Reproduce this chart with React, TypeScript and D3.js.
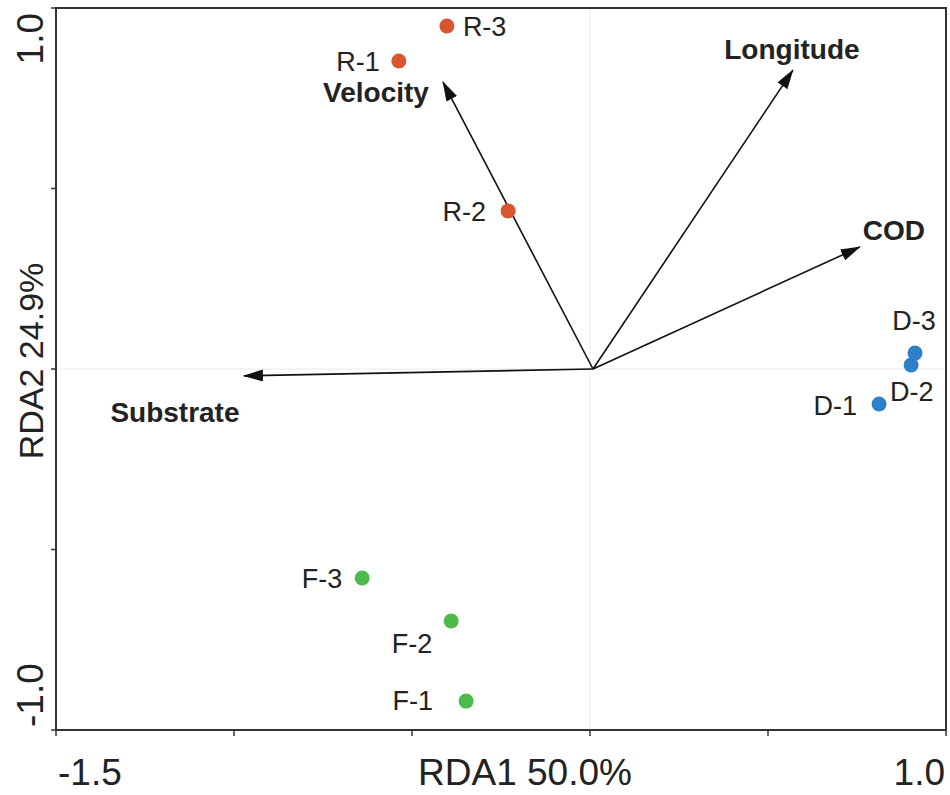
import React, { useEffect, useRef } from 'react';
import * as d3 from 'd3';

// sample scores (RDA1, RDA2)
const sampleNames = ['R-1', 'R-2', 'R-3', 'D-1', 'D-2', 'D-3', 'F-1', 'F-2', 'F-3'];
const sampleX = [-0.537, -0.230, -0.402, 0.812, 0.902, 0.913, -0.348, -0.390, -0.640];
const sampleY = [0.853, 0.438, 0.950, -0.097, 0.011, 0.044, -0.920, -0.698, -0.579];
const sampleGroup = ['R', 'R', 'R', 'D', 'D', 'D', 'F', 'F', 'F'];

// environmental factor arrows
const envNames = ['Velocity', 'Longitude', 'COD', 'Substrate'];
const envX = [-0.413, 0.570, 0.758, -0.972];
const envY = [0.795, 0.828, 0.338, -0.019];

const xTicks = [-1.5, -1.0, -0.5, 0, 0.5, 1.0];
const yTicks = [-1.0, -0.5, 0, 0.5, 1.0];

const groupColor: Record<string, string> = { R: '#d9552d', D: '#2f80c9', F: '#4dbb4b' };

// label placement (pixels relative to mark)
const sampleLabelPos: Record<string, [number, number, string]> = {
  'R-1': [-19, 0, 'end'],
  'R-2': [-22, 0, 'end'],
  'R-3': [16, 0, 'start'],
  'D-1': [-22, 1, 'end'],
  'D-2': [-21, 26, 'start'],
  'D-3': [-1, -33, 'middle'],
  'F-1': [-33, -1, 'end'],
  'F-2': [-19, 22, 'end'],
  'F-3': [-20, 0, 'end'],
};
const envLabelPos: Record<string, [number, number]> = {
  Velocity: [-67, 20],
  Longitude: [-1, -11],
  COD: [34, -7],
  Substrate: [-69, 46],
};

function App() {
  const svgRef = useRef<SVGSVGElement>(null);

  useEffect(() => {
    document.body.style.margin = '0';
    if (!svgRef.current) return;
    const svg = d3.select(svgRef.current);
    svg.selectAll('*').remove();

    const x = d3.scaleLinear().domain([-1.5, 1.0]).range([56, 946]);
    const y = d3.scaleLinear().domain([-1.0, 1.0]).range([730, 8]);
    const font = '"Liberation Sans", Arial, Helvetica, sans-serif';
    const ink = '#222';

    svg.append('defs').append('marker')
      .attr('id', 'arrowhead')
      .attr('markerUnits', 'userSpaceOnUse')
      .attr('viewBox', '0 0 20 12')
      .attr('refX', 19)
      .attr('refY', 6)
      .attr('markerWidth', 20)
      .attr('markerHeight', 12)
      .attr('orient', 'auto')
      .append('path')
      .attr('d', 'M0,0 L20,6 L0,12 Z')
      .attr('fill', '#111');

    // faint zero lines
    svg.append('line')
      .attr('x1', x(0)).attr('x2', x(0)).attr('y1', y(1)).attr('y2', y(-1))
      .attr('stroke', '#ececec').attr('stroke-width', 1);
    svg.append('line')
      .attr('x1', x(-1.5)).attr('x2', x(1)).attr('y1', y(0)).attr('y2', y(0))
      .attr('stroke', '#ececec').attr('stroke-width', 1);

    // frame
    svg.append('rect')
      .attr('x', x(-1.5)).attr('y', y(1))
      .attr('width', x(1) - x(-1.5)).attr('height', y(-1) - y(1))
      .attr('fill', 'none').attr('stroke', '#333').attr('stroke-width', 2);

    // ticks
    svg.selectAll('line.xt').data(xTicks).enter().append('line')
      .attr('class', 'xt')
      .attr('x1', d => x(d)).attr('x2', d => x(d))
      .attr('y1', y(-1)).attr('y2', y(-1) + 6)
      .attr('stroke', '#333').attr('stroke-width', 1.5);
    svg.selectAll('line.yt').data(yTicks).enter().append('line')
      .attr('class', 'yt')
      .attr('x1', x(-1.5) - 5).attr('x2', x(-1.5))
      .attr('y1', d => y(d)).attr('y2', d => y(d))
      .attr('stroke', '#333').attr('stroke-width', 1.5);

    // tick labels (only the ends)
    const xEnds = [xTicks[0], xTicks[xTicks.length - 1]];
    svg.selectAll('text.xl').data(xEnds).enter().append('text')
      .attr('class', 'xl')
      .attr('x', (d, i) => (i === 0 ? x(d) + 2 : x(d) - 1))
      .attr('y', 785)
      .attr('text-anchor', (d, i) => (i === 0 ? 'start' : 'end'))
      .style('font-family', font).style('font-size', '37px').style('fill', ink)
      .text(d => d.toFixed(1));
    const yEnds = [yTicks[0], yTicks[yTicks.length - 1]];
    svg.selectAll('text.yl').data(yEnds).enter().append('text')
      .attr('class', 'yl')
      .attr('transform', (d, i) => `translate(43,${i === 0 ? y(d) - 3 : y(d) + 5}) rotate(-90)`)
      .attr('text-anchor', (d, i) => (i === 0 ? 'start' : 'end'))
      .style('font-family', font).style('font-size', '37px').style('fill', ink)
      .text(d => d.toFixed(1));

    // axis titles
    svg.append('text')
      .attr('x', 525).attr('y', 785)
      .attr('text-anchor', 'middle')
      .style('font-family', font).style('font-size', '37px').style('fill', ink)
      .text('RDA1 50.0%');
    svg.append('text')
      .attr('transform', 'translate(43,361) rotate(-90)')
      .attr('text-anchor', 'middle')
      .style('font-family', font).style('font-size', '34px').style('fill', ink)
      .text('RDA2 24.9%');

    // arrows
    const env = envNames.map((n, i) => ({ name: n, x: envX[i], y: envY[i] }));
    svg.selectAll('line.arrow').data(env).enter().append('line')
      .attr('class', 'arrow')
      .attr('x1', x(0) + 3).attr('y1', y(0))
      .attr('x2', d => x(d.x)).attr('y2', d => y(d.y))
      .attr('stroke', '#111').attr('stroke-width', 1.6)
      .attr('marker-end', 'url(#arrowhead)');
    svg.selectAll('text.env').data(env).enter().append('text')
      .attr('class', 'env')
      .attr('x', d => x(d.x) + envLabelPos[d.name][0])
      .attr('y', d => y(d.y) + envLabelPos[d.name][1])
      .attr('text-anchor', 'middle')
      .style('font-family', font).style('font-size', '28px').style('font-weight', 'bold')
      .style('fill', ink)
      .text(d => d.name);

    // samples
    const samples = sampleNames.map((n, i) => ({ name: n, x: sampleX[i], y: sampleY[i], g: sampleGroup[i] }));
    svg.selectAll('circle.pt').data(samples).enter().append('circle')
      .attr('class', 'pt')
      .attr('cx', d => x(d.x)).attr('cy', d => y(d.y))
      .attr('r', 7.5)
      .attr('fill', d => groupColor[d.g]);
    svg.selectAll('text.pl').data(samples).enter().append('text')
      .attr('class', 'pl')
      .attr('x', d => x(d.x) + sampleLabelPos[d.name][0])
      .attr('y', d => y(d.y) + sampleLabelPos[d.name][1])
      .attr('dy', '0.36em')
      .attr('text-anchor', d => sampleLabelPos[d.name][2])
      .style('font-family', font).style('font-size', '27px').style('fill', ink)
      .text(d => d.name);
  }, []);

  return (
    <div>
      <svg ref={svgRef} width="950" height="795" style={{ display: 'block' }}></svg>
    </div>
  );
}

export default App;
